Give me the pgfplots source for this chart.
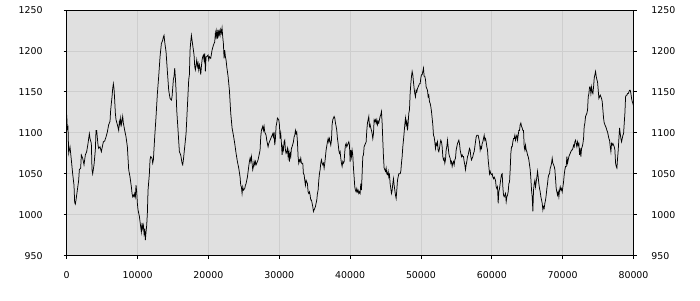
\documentclass[border=0pt]{standalone}
\usepackage{fontspec}
\setmainfont{DejaVu Sans}
\usepackage{pgfplots}
\pgfplotsset{compat=1.18}
\definecolor{plotbg}{HTML}{E0E0E0}
\definecolor{gridc}{HTML}{CECECE}
\pgfplotstableread{
x y
0 1122
90 1105
184 1107
278 1075
466 1083
654 1067
843 1050
1031 1036
1125 1015
1219 1013
1313 1018
1502 1030
1690 1042
1784 1055
1972 1057
2066 1073
2255 1069
2443 1061
2631 1073
2820 1077
3008 1087
3196 1099
3290 1093
3478 1087
3573 1055
3667 1050
3855 1061
4043 1079
4137 1103
4231 1103
4420 1085
4514 1081
4702 1083
4890 1077
4985 1081
5173 1089
5361 1090
5550 1095
5738 1101
5926 1110
6114 1114
6208 1128
6397 1144
6491 1154
6585 1160
6679 1154
6773 1140
6867 1124
6962 1116
7150 1110
7338 1103
7432 1114
7526 1110
7621 1118
7715 1110
7809 1114
7903 1120
7997 1112
8186 1103
8374 1095
8562 1083
8750 1055
8939 1046
9127 1034
9221 1026
9315 1022
9409 1024
9503 1022
9597 1026
9691 1022
9786 1036
9880 1028
9974 1014
10068 1006
10256 998
10444 985
10539 979
10633 990
10727 983
10821 987
10915 977
11009 983
11103 969
11198 979
11292 987
11386 1002
11480 1030
11668 1050
11762 1067
11857 1071
12045 1069
12139 1063
12233 1067
12421 1095
12610 1120
12798 1148
12986 1169
13175 1193
13363 1209
13551 1213
13645 1217
13739 1219
13833 1211
14022 1199
14210 1175
14398 1152
14587 1142
14775 1140
14869 1144
15057 1165
15151 1169
15246 1179
15340 1167
15434 1152
15528 1128
15716 1103
15905 1077
16093 1073
16281 1063
16375 1061
16469 1067
16658 1083
16846 1099
17034 1132
17223 1165
17317 1171
17411 1201
17505 1211
17599 1219
17693 1213
17787 1207
17976 1195
18070 1181
18164 1177
18258 1183
18352 1189
18446 1181
18541 1185
18635 1177
18729 1183
18823 1179
18917 1171
19011 1181
19105 1189
19200 1193
19294 1195
19388 1189
19482 1197
19576 1175
19670 1193
19763 1193
19951 1195
20046 1189
20140 1193
20328 1191
20516 1201
20705 1207
20893 1211
20987 1222
21081 1217
21175 1224
21269 1215
21364 1226
21458 1219
21552 1224
21646 1219
21740 1226
21834 1222
21928 1228
22023 1217
22117 1209
22211 1191
22305 1201
22399 1193
22493 1189
22587 1181
22776 1169
22964 1152
23152 1124
23341 1106
23529 1097
23717 1087
23905 1075
24094 1065
24282 1057
24470 1046
24564 1036
24658 1034
24753 1026
24847 1034
24941 1030
25129 1032
25223 1036
25317 1038
25506 1046
25694 1059
25788 1065
25882 1069
25976 1065
26071 1071
26165 1063
26259 1055
26353 1059
26447 1065
26541 1061
26635 1065
26730 1061
26824 1063
27012 1067
27106 1071
27294 1079
27388 1095
27483 1103
27671 1108
27765 1103
27859 1108
27953 1101
28142 1097
28236 1091
28424 1083
28518 1087
28706 1091
28895 1095
29083 1099
29177 1095
29271 1101
29365 1085
29460 1093
29554 1108
29648 1112
29742 1118
29930 1116
30024 1110
30118 1093
30213 1099
30307 1087
30401 1073
30495 1083
30589 1079
30683 1089
30777 1091
30872 1079
30966 1075
31060 1077
31154 1081
31248 1071
31342 1077
31436 1065
31531 1075
31625 1071
31719 1081
31813 1083
32001 1089
32095 1095
32190 1097
32284 1103
32378 1099
32472 1101
32566 1089
32660 1071
32754 1063
32848 1067
32943 1065
33037 1069
33131 1063
33319 1063
33413 1050
33507 1049
33602 1042
33696 1036
33790 1042
33884 1040
33978 1038
34072 1028
34166 1026
34261 1028
34355 1024
34449 1018
34543 1018
34637 1014
34731 1010
34825 1004
34920 1006
35014 1008
35108 1010
35202 1014
35296 1018
35390 1026
35484 1030
35579 1042
35673 1050
35767 1055
35861 1063
35955 1067
36049 1063
36143 1061
36238 1063
36332 1057
36426 1063
36520 1071
36614 1079
36802 1089
36897 1093
36991 1089
37085 1093
37179 1089
37273 1085
37367 1091
37461 1110
37556 1116
37650 1118
37744 1120
37838 1118
37932 1112
38026 1108
38120 1103
38214 1093
38309 1087
38403 1079
38497 1075
38591 1077
38685 1069
38779 1063
38873 1059
38968 1065
39062 1063
39156 1065
39250 1077
39344 1085
39438 1087
39532 1083
39627 1085
39721 1087
39815 1089
39909 1085
40003 1065
40096 1079
40190 1071
40284 1079
40379 1073
40473 1057
40567 1046
40661 1034
40755 1030
40849 1028
40943 1032
41038 1028
41132 1030
41226 1026
41320 1028
41414 1026
41508 1038
41602 1030
41697 1050
41791 1071
41885 1073
41979 1083
42073 1085
42167 1087
42261 1089
42356 1103
42450 1112
42544 1116
42638 1120
42732 1108
42826 1110
42920 1106
43014 1103
43109 1099
43203 1093
43297 1099
43391 1116
43485 1114
43579 1116
43673 1112
43768 1116
43862 1110
43956 1114
44050 1112
44144 1116
44238 1120
44332 1122
44427 1126
44521 1112
44615 1091
44709 1071
44803 1057
44897 1055
44991 1053
45086 1057
45180 1050
45274 1049
45368 1053
45462 1046
45556 1049
45650 1038
45745 1032
45839 1026
45933 1030
46027 1038
46121 1044
46215 1036
46309 1030
46404 1024
46498 1020
46592 1030
46686 1042
46780 1046
46874 1050
46968 1050
47063 1050
47157 1053
47251 1063
47345 1071
47439 1083
47533 1091
47721 1110
47816 1118
47910 1110
48004 1114
48098 1103
48192 1112
48286 1124
48380 1128
48475 1148
48569 1160
48663 1169
48757 1175
48851 1171
48945 1162
49039 1154
49134 1148
49228 1144
49322 1152
49416 1150
49510 1154
49604 1156
49698 1158
49793 1160
49887 1160
49981 1167
50075 1171
50168 1171
50262 1175
50356 1179
50450 1169
50545 1169
50639 1165
50733 1156
50827 1154
50921 1152
51015 1144
51109 1146
51204 1138
51298 1136
51392 1132
51486 1126
51580 1118
51674 1110
51768 1097
51863 1095
51957 1089
52051 1081
52145 1087
52239 1085
52333 1089
52427 1079
52522 1077
52616 1081
52710 1087
52804 1091
52898 1089
52992 1083
53086 1071
53180 1067
53275 1069
53369 1063
53463 1067
53557 1079
53651 1083
53745 1091
53839 1083
53934 1075
54028 1071
54122 1069
54216 1063
54310 1065
54404 1059
54498 1063
54593 1065
54687 1061
54781 1067
54875 1069
54969 1079
55063 1083
55157 1087
55252 1089
55346 1091
55440 1087
55534 1079
55628 1075
55722 1071
55816 1073
55911 1071
56005 1071
56099 1065
56193 1061
56287 1055
56381 1061
56475 1065
56570 1071
56664 1073
56758 1077
56852 1081
56946 1079
57040 1071
57134 1067
57229 1069
57323 1071
57417 1075
57511 1077
57605 1083
57699 1089
57793 1095
57888 1097
58076 1097
58170 1093
58264 1089
58358 1079
58452 1083
58547 1081
58641 1087
58735 1089
58829 1093
58923 1097
59017 1091
59111 1093
59206 1089
59300 1083
59394 1079
59488 1067
59582 1059
59676 1050
59770 1053
59865 1050
59959 1049
60053 1050
60147 1046
60241 1044
60335 1046
60429 1044
60523 1042
60617 1034
60712 1032
60806 1034
60900 1014
60994 1028
61088 1032
61182 1038
61276 1044
61371 1049
61465 1050
61559 1034
61653 1024
61747 1022
61841 1024
61935 1026
62030 1016
62124 1022
62218 1024
62312 1028
62406 1038
62500 1040
62594 1055
62689 1075
62783 1083
62877 1083
62971 1089
63065 1093
63159 1093
63253 1097
63348 1091
63442 1095
63536 1097
63630 1091
63724 1097
63818 1103
63912 1103
64006 1110
64101 1112
64195 1108
64289 1106
64383 1103
64477 1103
64571 1083
64665 1079
64760 1085
64854 1079
64948 1077
65042 1073
65136 1071
65230 1067
65324 1061
65419 1055
65513 1044
65607 1030
65701 1022
65795 1004
65889 1030
65983 1038
66078 1042
66172 1034
66266 1040
66360 1046
66454 1053
66548 1046
66642 1038
66737 1032
66831 1028
66925 1022
67019 1018
67113 1014
67207 1006
67301 1010
67396 1008
67490 1014
67584 1018
67678 1024
67772 1032
67866 1038
67960 1046
68055 1049
68149 1050
68243 1057
68337 1059
68431 1063
68525 1069
68619 1063
68714 1061
68808 1059
68902 1055
68996 1044
69090 1032
69184 1028
69278 1024
69372 1028
69467 1022
69561 1030
69655 1034
69749 1030
69843 1032
69937 1028
70031 1034
70126 1040
70220 1049
70314 1055
70408 1059
70502 1059
70596 1071
70690 1063
70784 1067
70879 1071
70973 1073
71067 1075
71161 1077
71255 1079
71349 1079
71443 1081
71538 1085
71632 1083
71726 1089
71820 1091
71914 1087
72008 1083
72102 1089
72197 1085
72291 1087
72385 1073
72479 1081
72573 1071
72667 1081
72761 1083
72856 1087
72950 1093
73044 1108
73138 1112
73232 1120
73326 1122
73420 1124
73514 1128
73609 1144
73703 1148
73797 1156
73891 1156
73985 1148
74079 1156
74173 1150
74268 1148
74362 1156
74456 1167
74550 1171
74644 1175
74738 1169
74832 1165
74927 1162
75021 1152
75115 1142
75209 1144
75303 1146
75397 1144
75491 1142
75586 1138
75680 1128
75774 1118
75868 1112
75962 1110
76056 1108
76150 1106
76245 1103
76339 1101
76433 1097
76527 1093
76621 1091
76715 1083
76809 1077
76904 1087
76998 1085
77092 1087
77186 1085
77280 1083
77374 1079
77468 1063
77563 1059
77657 1057
77751 1069
77845 1079
77939 1093
78033 1106
78127 1099
78222 1093
78316 1089
78410 1093
78504 1097
78598 1099
78692 1112
78786 1124
78881 1144
78975 1146
79069 1146
79163 1148
79257 1148
79351 1150
79445 1152
79540 1152
79634 1148
79728 1142
79822 1138
79916 1136
80000 1133
}\series
\pgfplotsset{
  mybase/.style={
    at={(0pt,0pt)}, anchor=south west,
    scale only axis, width=566.8pt, height=245.7pt,
    xmin=0, xmax=80000, ymin=950, ymax=1250,
    xtick={0,10000,...,80000}, ytick={950,1000,...,1250},
    scaled x ticks=false, scaled y ticks=false,
    /pgf/number format/1000 sep={},
    /pgf/number format/assume math mode=true,
    tick label style={font=\fontsize{9.4}{11}\selectfont, text=black},
    tick align=outside, major tick length=3pt,
    tick style={black, line width=0.8pt},
  }
}
\begin{document}
\begin{tikzpicture}
\begin{axis}[mybase,
  axis background/.style={fill=plotbg},
  grid=major, major grid style={gridc, line width=0.8pt},
  axis line style={black, line width=0.8pt},
  xtick pos=bottom, ytick pos=left,
  yticklabel style={xshift=-17.6pt},
  xticklabel style={yshift=-8.9pt},
]
\addplot[black, line width=0.75pt, mark=none] table[x=x, y=y] {\series};
\end{axis}
\begin{axis}[mybase,
  axis line style={draw=none},
  xtick=\empty, ytick pos=right, yticklabel pos=right,
  yticklabel style={xshift=11.4pt},
]
\addplot[draw=none] coordinates {(0,1000)};
\end{axis}
\pgfresetboundingbox
\useasboundingbox (-66.7pt,-44.3pt) rectangle (633.3pt,255.7pt);
\end{tikzpicture}
\end{document}
